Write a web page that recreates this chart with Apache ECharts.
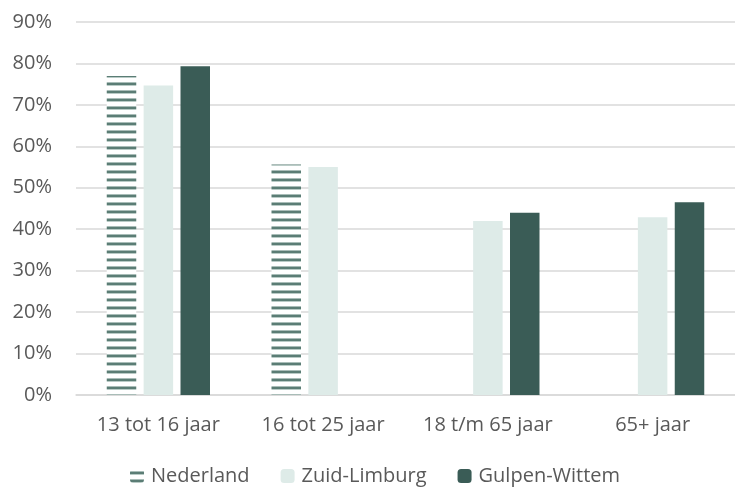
<!DOCTYPE html>
<html><head><meta charset="utf-8">
<script src="https://cdn.jsdelivr.net/npm/echarts@6/dist/echarts.min.js"></script>
<style>html,body{margin:0;padding:0;background:#fff}#c{width:735px;height:489px}</style>
</head><body><div id="c"></div>
<script>
var categories = ['13 tot 16 jaar', '16 tot 25 jaar', '18 t/m 65 jaar', '65+ jaar'];
var nederland = [77.0, 55.6, null, null];
var zuidLimburg = [74.7, 55.0, 42.0, 42.9];
var gulpenWittem = [79.3, null, 44.0, 46.5];
var yTicks = [0, 10, 20, 30, 40, 50, 60, 70, 80, 90];

var pc = document.createElement('canvas');
pc.width = 8; pc.height = 8;
var ctx = pc.getContext('2d');
ctx.fillStyle = '#ffffff'; ctx.fillRect(0, 0, 8, 8);
ctx.fillStyle = '#a9bdb8'; ctx.fillRect(0, 2, 8, 1);
ctx.fillStyle = '#5b7d75'; ctx.fillRect(0, 3, 8, 2);
ctx.fillStyle = '#b9cbc6'; ctx.fillRect(0, 5, 8, 1);

var font = '"Open Sans", "Liberation Sans", sans-serif';
var chart = echarts.init(document.getElementById('c'), null, {renderer: 'canvas'});
chart.setOption({
  animation: false,
  textStyle: {fontFamily: font},
  grid: {left: 76, right: 0, top: 22, bottom: 94},
  legend: {
    top: 466, left: 130, padding: 0, itemWidth: 14, itemHeight: 14, itemGap: 31,
    textStyle: {color: '#595959', fontSize: 20, fontFamily: font, padding: [0, 0, 0, 2]},
    data: ['Nederland', 'Zuid-Limburg', 'Gulpen-Wittem']
  },
  xAxis: {
    type: 'category', data: categories,
    axisLine: {lineStyle: {color: '#d9d9d9', width: 1.5}},
    axisTick: {show: false},
    axisLabel: {color: '#595959', fontSize: 20, margin: 20, fontFamily: font, interval: 0}
  },
  yAxis: {
    type: 'value', min: 0, max: 90, interval: 10,
    axisLine: {show: false}, axisTick: {show: false},
    splitLine: {lineStyle: {color: '#d9d9d9', width: 1.5}},
    axisLabel: {color: '#595959', fontSize: 20, margin: 24, fontFamily: font,
      formatter: function (v) { return yTicks.indexOf(v) >= 0 ? v + '%' : ''; }}
  },
  series: [
    {name: 'Nederland', type: 'bar', data: nederland, barWidth: 29.5, barGap: '25%',
      itemStyle: {color: {image: pc, repeat: 'repeat'}}},
    {name: 'Zuid-Limburg', type: 'bar', data: zuidLimburg, barWidth: 29.5, barGap: '25%',
      itemStyle: {color: '#deebe8'}},
    {name: 'Gulpen-Wittem', type: 'bar', data: gulpenWittem, barWidth: 29.5, barGap: '25%',
      itemStyle: {color: '#3a5c56'}}
  ]
});
</script></body></html>
